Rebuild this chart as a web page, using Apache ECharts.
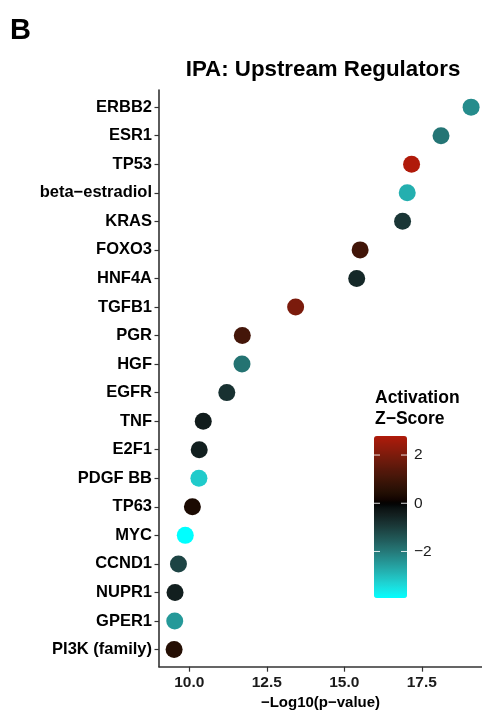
<!DOCTYPE html>
<html>
<head>
<meta charset="utf-8">
<script src="https://cdn.jsdelivr.net/npm/echarts@6/dist/echarts.min.js"></script>
<style>
  html, body { margin: 0; padding: 0; background: #ffffff; }
  #chart { width: 482px; height: 711px; }
</style>
</head>
<body>
<div id="chart"></div>
<script>
// Upstream regulators, top to bottom
const regulators = ['ERBB2', 'ESR1', 'TP53', 'beta\u2212estradiol', 'KRAS', 'FOXO3', 'HNF4A', 'TGFB1',
  'PGR', 'HGF', 'EGFR', 'TNF', 'E2F1', 'PDGF BB', 'TP63', 'MYC', 'CCND1', 'NUPR1', 'GPER1', 'PI3K (family)'];
// -log10(p-value) per regulator
const negLog10P = [19.09, 18.12, 17.17, 17.03, 16.88, 15.51, 15.40, 13.43, 11.71, 11.70,
  11.21, 10.45, 10.32, 10.31, 10.10, 9.87, 9.65, 9.54, 9.53, 9.51];
// activation z-score per regulator
const zScore = [-2.28, -1.93, 2.79, -2.81, -0.89, 1.00, -0.62, 1.97, 1.06, -1.90,
  -0.80, -0.40, -0.45, -3.21, 0.30, -3.93, -1.13, -0.45, -2.48, 0.50];
// axis and colour-bar ticks
const xTicks = [10, 12.5, 15, 17.5];
const zTicks = [2, 0, -2];

const FONT = 'Liberation Sans, Arial, Helvetica, sans-serif';

// ---- diverging colour scale (low cyan, mid black, high red), interpolated in CIE Lab ----
function toLin(c) { c /= 255; return c <= 0.04045 ? c / 12.92 : Math.pow((c + 0.055) / 1.055, 2.4); }
function toSrgb(c) {
  c = Math.max(0, Math.min(1, c));
  const v = c <= 0.0031308 ? 12.92 * c : 1.055 * Math.pow(c, 1 / 2.4) - 0.055;
  return Math.round(Math.max(0, Math.min(1, v)) * 255);
}
function rgbToLab(rgb) {
  const r = toLin(rgb[0]), g = toLin(rgb[1]), b = toLin(rgb[2]);
  const X = (0.4124 * r + 0.3576 * g + 0.1805 * b) / 0.95047;
  const Y = (0.2126 * r + 0.7152 * g + 0.0722 * b);
  const Z = (0.0193 * r + 0.1192 * g + 0.9505 * b) / 1.08883;
  const f = t => t > 0.008856 ? Math.cbrt(t) : 7.787 * t + 16 / 116;
  const fx = f(X), fy = f(Y), fz = f(Z);
  return [116 * fy - 16, 500 * (fx - fy), 200 * (fy - fz)];
}
function labToRgb(lab) {
  const fy = (lab[0] + 16) / 116, fx = fy + lab[1] / 500, fz = fy - lab[2] / 200;
  const inv = t => t > 6 / 29 ? t * t * t : 3 * (6 / 29) * (6 / 29) * (t - 4 / 29);
  const X = 0.95047 * inv(fx), Y = inv(fy), Z = 1.08883 * inv(fz);
  const r = 3.2406 * X - 1.5372 * Y - 0.4986 * Z;
  const g = -0.9689 * X + 1.8758 * Y + 0.0415 * Z;
  const b = 0.0557 * X - 0.2040 * Y + 1.0570 * Z;
  return [toSrgb(r), toSrgb(g), toSrgb(b)];
}
const LAB_LOW = rgbToLab([0, 255, 255]);
const LAB_MID = rgbToLab([0, 0, 0]);
const LAB_HIGH = rgbToLab([255, 0, 0]);
const zMin = Math.min(...zScore), zMax = Math.max(...zScore);
const zSpan = Math.max(Math.abs(zMin), Math.abs(zMax));
function zColor(v) {
  const t = Math.min(1, Math.abs(v) / zSpan);
  const end = v < 0 ? LAB_LOW : LAB_HIGH;
  const lab = LAB_MID.map((m, k) => m + (end[k] - m) * t);
  const c = labToRgb(lab);
  return 'rgb(' + c[0] + ',' + c[1] + ',' + c[2] + ')';
}
const N_STOPS = 60;
const colorStops = [];
for (let i = 0; i < N_STOPS; i++) colorStops.push(zColor(zMin + (zMax - zMin) * i / (N_STOPS - 1)));

// ---- layout ----
const GRID = { left: 159, top: 90, right: 0, bottom: 44.3 };
const BAR = { left: 374, top: 436, width: 33, height: 162 };
const barY = v => BAR.top + (zMax - v) / (zMax - zMin) * BAR.height;

const graphics = [
  { type: 'text', x: 10, y: 31, style: { text: 'B', font: 'bold 29px ' + FONT, fill: '#000', verticalAlign: 'middle' } },
  { type: 'text', x: 375, y: 398, style: { text: 'Activation', font: 'bold 17.5px ' + FONT, fill: '#000', verticalAlign: 'middle' } },
  { type: 'text', x: 375, y: 419, style: { text: 'Z\u2212Score', font: 'bold 17.5px ' + FONT, fill: '#000', verticalAlign: 'middle' } }
];
zTicks.forEach(v => {
  const y = barY(v);
  graphics.push({ type: 'text', x: 414, y: y, z: 10,
    style: { text: v < 0 ? '\u2212' + Math.abs(v) : String(v), font: '15.5px ' + FONT, fill: '#1a1a1a', verticalAlign: 'middle' } });
  graphics.push({ type: 'line', z: 10, shape: { x1: BAR.left, y1: y, x2: BAR.left + 6, y2: y }, style: { stroke: 'rgba(255,255,255,0.85)', lineWidth: 1 } });
  graphics.push({ type: 'line', z: 10, shape: { x1: BAR.left + BAR.width - 6, y1: y, x2: BAR.left + BAR.width, y2: y }, style: { stroke: 'rgba(255,255,255,0.85)', lineWidth: 1 } });
});

const chart = echarts.init(document.getElementById('chart'), null, { renderer: 'canvas' });
chart.setOption({
  animation: false,
  backgroundColor: '#ffffff',
  title: {
    text: 'IPA: Upstream Regulators',
    left: 323, top: 59, textAlign: 'center', padding: 0,
    textStyle: { fontFamily: FONT, fontWeight: 'bold', fontSize: 22.3, color: '#000' }
  },
  grid: Object.assign({ containLabel: false, outerBoundsMode: 'none' }, GRID),
  xAxis: {
    type: 'value',
    min: 10 - (189.3 - GRID.left) / 31,
    max: 10 - (189.3 - GRID.left) / 31 + (482 - GRID.left) / 31,
    splitLine: { show: false },
    axisLine: { show: true, onZero: false, lineStyle: { color: '#333', width: 1.6 } },
    axisTick: { show: true, length: 5, customValues: xTicks, lineStyle: { color: '#333', width: 1.2 } },
    axisLabel: { customValues: xTicks, formatter: v => v.toFixed(1), margin: 8,
      fontFamily: FONT, fontWeight: 'bold', fontSize: 15.5, color: '#1a1a1a' },
    name: '\u2212Log10(p\u2212value)',
    nameLocation: 'middle', nameGap: 21,
    nameTextStyle: { fontFamily: FONT, fontWeight: 'bold', fontSize: 15, color: '#000' }
  },
  yAxis: {
    type: 'value',
    inverse: true,
    min: -0.6, max: regulators.length - 0.4,
    splitLine: { show: false },
    axisLine: { show: true, onZero: false, lineStyle: { color: '#333', width: 1.6 } },
    axisTick: { show: true, length: 4.5, customValues: regulators.map((_, i) => i), lineStyle: { color: '#333', width: 1.2 } },
    axisLabel: { customValues: regulators.map((_, i) => i), formatter: v => regulators[Math.round(v)], margin: 7,
      fontFamily: FONT, fontWeight: 'bold', fontSize: 16.5, color: '#000' }
  },
  visualMap: {
    type: 'continuous',
    min: zMin, max: zMax,
    dimension: 2, seriesIndex: 0,
    calculable: false, hoverLink: false,
    inRange: { color: colorStops },
    left: BAR.left, top: BAR.top, padding: 0,
    itemWidth: BAR.width, itemHeight: BAR.height,
    orient: 'vertical'
  },
  series: [{
    type: 'scatter',
    symbol: 'circle',
    symbolSize: 17,
    itemStyle: { opacity: 1 },
    data: negLog10P.map((x, i) => [x, i, zScore[i]]),
    emphasis: { disabled: true }
  }],
  graphic: graphics
});
</script>
</body>
</html>
